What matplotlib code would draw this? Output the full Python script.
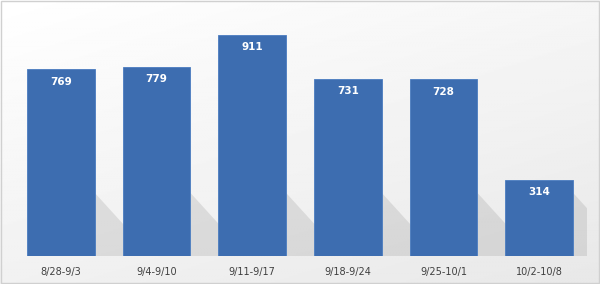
import numpy as np
import matplotlib
matplotlib.use("Agg")
import matplotlib.pyplot as plt

weeks = ["8/28-9/3", "9/4-9/10", "9/11-9/17", "9/18-9/24", "9/25-10/1", "10/2-10/8"]
counts = [769, 779, 911, 731, 728, 314]

fig = plt.figure(figsize=(6.0, 2.84), dpi=100)
fig.patch.set_facecolor("#ffffff")

# soft background gradient (white top-left -> light gray bottom-right)
bg = fig.add_axes([0, 0, 1, 1], zorder=0)
yy, xx = np.mgrid[0:1:200j, 0:1:400j]
grad = 1.0 - 0.09 * (0.6 * yy + 0.4 * xx)
bg.imshow(grad, cmap="gray", vmin=0, vmax=1, aspect="auto", extent=[0, 1, 0, 1])
bg.set_axis_off()
frame = plt.Rectangle((0.002, 0.004), 0.996, 0.992, transform=fig.transFigure,
                      fill=False, edgecolor="#d0d0d0", linewidth=1.0)
fig.patches.append(frame)

ax = fig.add_axes([0.0217, 0.0986, 0.9566, 0.8542], zorder=1)
ax.patch.set_alpha(0)
x = np.arange(len(weeks))
w = 0.71

# slanted drop shadow at the foot of each bar
for xi, v in zip(x, counts):
    h = min(v, 260)
    ax.fill([xi + w / 2, xi + w / 2 + 0.33, xi + w / 2 + 0.33, xi + w / 2],
            [0, 0, h * 0.45, h], color="#8c8c8c", alpha=0.22, lw=0, zorder=1)

ax.bar(x, counts, width=w, color="#3d6db0", edgecolor="#4a7cc0", linewidth=0.6, zorder=2)

for xi, v in zip(x, counts):
    ax.text(xi, v - 30, str(v), ha="center", va="top", color="white",
            fontsize=7.5, fontweight="bold", zorder=3)

ax.set_xlim(-0.5, len(weeks) - 0.5)
ax.set_ylim(0, 1000)
ax.set_xticks(x)
ax.set_xticklabels(weeks, fontsize=7, color="#404040")
ax.tick_params(axis="x", length=0, pad=8)
ax.set_yticks([])
for s in ax.spines.values():
    s.set_visible(False)

fig.savefig("out.png", dpi=100)
